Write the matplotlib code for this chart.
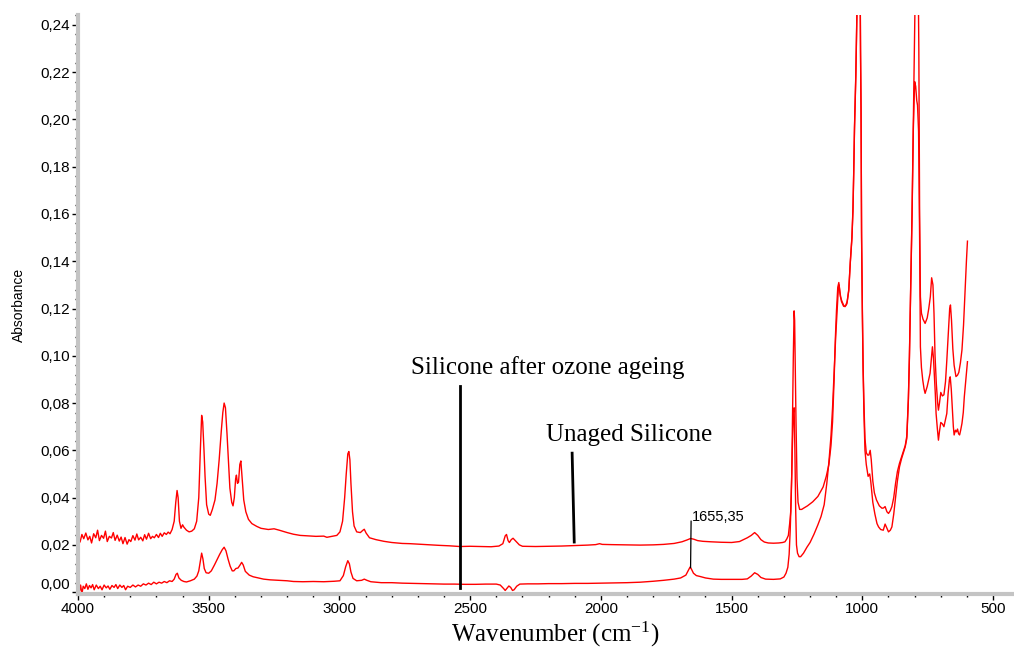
import matplotlib
matplotlib.use("Agg")
import matplotlib.pyplot as plt
from matplotlib.ticker import MultipleLocator, FuncFormatter

plt.rcParams["mathtext.fontset"] = "custom"
plt.rcParams["mathtext.rm"] = "Liberation Serif"
plt.rcParams["mathtext.it"] = "Liberation Serif:italic"

# ---------------- data ----------------
wn_unaged = [4000, 3992, 3985, 3978, 3970, 3962, 3955, 3948, 3940, 3932, 3925, 3918, 3910, 3902, 3895,
             3888, 3880, 3872, 3865, 3858, 3850, 3842, 3835, 3828, 3820, 3812, 3805, 3798, 3790, 3782,
             3775, 3768, 3760, 3752, 3745, 3738, 3730, 3722, 3715, 3708, 3700, 3692, 3685, 3678, 3670,
             3662, 3655, 3648, 3640, 3632, 3626, 3621, 3617, 3612, 3606, 3600, 3595, 3585, 3575, 3565,
             3555, 3546, 3538, 3532, 3527, 3523, 3518, 3514, 3508, 3500, 3494, 3486, 3476, 3468, 3460,
             3452, 3446, 3441, 3436, 3430, 3424, 3419, 3412, 3407, 3402, 3397, 3394, 3390, 3386, 3381,
             3377, 3372, 3366, 3358, 3348, 3335, 3316, 3300, 3272, 3250, 3230, 3200, 3176, 3150, 3120,
             3090, 3060, 3048, 3030, 3010, 2998, 2988, 2980, 2974, 2968, 2964, 2960, 2956, 2950, 2944,
             2934, 2920, 2910, 2905, 2898, 2885, 2860, 2830, 2800, 2760, 2730, 2700, 2660, 2620, 2580,
             2540, 2500, 2460, 2420, 2390, 2375, 2366, 2361, 2355, 2350, 2343, 2336, 2325, 2312, 2300,
             2250, 2200, 2150, 2100, 2050, 2020, 2005, 1995, 1960, 1900, 1850, 1800, 1760, 1720, 1690,
             1670, 1657, 1645, 1630, 1610, 1580, 1540, 1500, 1470, 1455, 1440, 1425, 1412, 1400, 1388,
             1375, 1360, 1340, 1320, 1305, 1296, 1289, 1283, 1278, 1274, 1270, 1267, 1264, 1261, 1259,
             1256, 1254, 1250, 1246, 1240, 1232, 1225, 1210, 1190, 1170, 1150, 1138, 1128, 1120, 1114,
             1108, 1103, 1099, 1094, 1090, 1086, 1080, 1072, 1066, 1059, 1052, 1046, 1040, 1036, 1033,
             1030, 1025, 1021, 1017, 1013, 1010, 1007, 1005, 1003, 1000, 997, 994, 990, 985, 980,
             975, 970, 966, 960, 954, 946, 935, 925, 919, 913, 906, 900, 893, 887, 880,
             873, 866, 858, 850, 843, 836, 830, 824, 820, 815, 810, 805, 800, 796, 792,
             788, 784, 781, 778, 774, 768, 760, 752, 746, 740, 735, 730, 726, 722, 717,
             712, 709, 705, 700, 694, 688, 682, 677, 671, 666, 663, 659, 654, 649, 642,
             636, 631, 625, 619, 613, 607, 602, 598]
abs_unaged = [0.0225, 0.0212, 0.0244, 0.0226, 0.0250, 0.0221, 0.0236, 0.0208, 0.0247, 0.0230, 0.0262, 0.0218, 0.0240, 0.0228, 0.0258,
              0.0214, 0.0236, 0.0229, 0.0252, 0.0219, 0.0241, 0.0216, 0.0233, 0.0205, 0.0231, 0.0203, 0.0222, 0.0214, 0.0239, 0.0220,
              0.0246, 0.0221, 0.0232, 0.0217, 0.0243, 0.0224, 0.0249, 0.0226, 0.0236, 0.0230, 0.0244, 0.0231, 0.0249, 0.0236, 0.0251,
              0.0244, 0.0254, 0.0247, 0.0265, 0.0300, 0.0380, 0.0430, 0.0400, 0.0300, 0.0270, 0.0285, 0.0275, 0.0262, 0.0255, 0.0258,
              0.0268, 0.0300, 0.0400, 0.0600, 0.0748, 0.0720, 0.0600, 0.0490, 0.0370, 0.0330, 0.0325, 0.0350, 0.0390, 0.0460, 0.0560,
              0.0680, 0.0760, 0.0800, 0.0780, 0.0670, 0.0540, 0.0440, 0.0380, 0.0365, 0.0400, 0.0480, 0.0495, 0.0460, 0.0465, 0.0540,
              0.0555, 0.0480, 0.0390, 0.0340, 0.0308, 0.0290, 0.0278, 0.0270, 0.0265, 0.0268, 0.0262, 0.0252, 0.0245, 0.0240, 0.0238,
              0.0236, 0.0237, 0.0232, 0.0236, 0.0240, 0.0255, 0.0300, 0.0400, 0.0500, 0.0585, 0.0595, 0.0560, 0.0460, 0.0340, 0.0280,
              0.0255, 0.0252, 0.0262, 0.0266, 0.0250, 0.0230, 0.0222, 0.0215, 0.0210, 0.0206, 0.0205, 0.0203, 0.0200, 0.0198, 0.0196,
              0.0193, 0.0194, 0.0193, 0.0192, 0.0195, 0.0205, 0.0238, 0.0244, 0.0218, 0.0210, 0.0222, 0.0228, 0.0215, 0.0200, 0.0194,
              0.0193, 0.0194, 0.0195, 0.0197, 0.0199, 0.0201, 0.0205, 0.0202, 0.0201, 0.0200, 0.0199, 0.0200, 0.0202, 0.0206, 0.0213,
              0.0221, 0.0227, 0.0224, 0.0218, 0.0215, 0.0213, 0.0211, 0.0210, 0.0214, 0.0222, 0.0230, 0.0240, 0.0252, 0.0240, 0.0222,
              0.0212, 0.0208, 0.0207, 0.0208, 0.0210, 0.0213, 0.0225, 0.0240, 0.0290, 0.0340, 0.0500, 0.0760, 0.1000, 0.1190, 0.1150,
              0.0900, 0.0740, 0.0480, 0.0380, 0.0350, 0.0350, 0.0355, 0.0365, 0.0382, 0.0405, 0.0445, 0.0490, 0.0540, 0.0620, 0.0720,
              0.0900, 0.1080, 0.1190, 0.1290, 0.1310, 0.1270, 0.1230, 0.1210, 0.1208, 0.1220, 0.1280, 0.1400, 0.1500, 0.1620, 0.1780,
              0.1970, 0.2190, 0.2440, 0.2700, 0.2950, 0.2900, 0.2300, 0.2050, 0.1520, 0.1200, 0.0950, 0.0800, 0.0650, 0.0590, 0.0580,
              0.0580, 0.0600, 0.0560, 0.0470, 0.0420, 0.0390, 0.0365, 0.0355, 0.0356, 0.0362, 0.0340, 0.0333, 0.0345, 0.0362, 0.0400,
              0.0460, 0.0510, 0.0545, 0.0572, 0.0595, 0.0620, 0.0660, 0.0820, 0.1000, 0.1300, 0.1600, 0.1980, 0.2370, 0.2700, 0.2900,
              0.2800, 0.2300, 0.1600, 0.1250, 0.1180, 0.1155, 0.1137, 0.1160, 0.1200, 0.1250, 0.1330, 0.1300, 0.1180, 0.1000, 0.0880,
              0.0800, 0.0770, 0.0800, 0.0845, 0.0830, 0.0835, 0.0890, 0.0980, 0.1100, 0.1200, 0.1215, 0.1150, 0.1030, 0.0960, 0.0912,
              0.0918, 0.0930, 0.0970, 0.1025, 0.1130, 0.1280, 0.1400, 0.1485]

wn_aged = [4000, 3994, 3990, 3985, 3980, 3974, 3968, 3962, 3956, 3950, 3944, 3938, 3930, 3922, 3915,
           3908, 3900, 3892, 3885, 3878, 3870, 3862, 3855, 3848, 3840, 3832, 3825, 3818, 3810, 3800,
           3790, 3780, 3770, 3760, 3750, 3740, 3730, 3720, 3710, 3700, 3690, 3680, 3670, 3660, 3650,
           3640, 3632, 3625, 3620, 3614, 3605, 3595, 3585, 3570, 3555, 3545, 3538, 3532, 3527, 3522,
           3517, 3510, 3500, 3490, 3478, 3468, 3458, 3448, 3441, 3434, 3426, 3418, 3410, 3404, 3396,
           3388, 3380, 3374, 3368, 3360, 3345, 3330, 3310, 3290, 3265, 3230, 3200, 3176, 3140, 3100,
           3060, 3020, 2998, 2985, 2976, 2968, 2962, 2956, 2948, 2934, 2915, 2905, 2895, 2880, 2840,
           2800, 2760, 2720, 2680, 2640, 2600, 2560, 2520, 2480, 2440, 2400, 2385, 2372, 2366, 2360,
           2352, 2345, 2338, 2332, 2322, 2310, 2280, 2240, 2200, 2150, 2100, 2050, 2000, 1950, 1900,
           1850, 1800, 1760, 1720, 1695, 1675, 1664, 1659, 1654, 1646, 1635, 1620, 1600, 1570, 1540,
           1500, 1460, 1440, 1425, 1412, 1400, 1388, 1370, 1340, 1314, 1300, 1292, 1285, 1280, 1276,
           1272, 1268, 1264, 1261, 1258, 1255, 1252, 1248, 1242, 1236, 1225, 1212, 1200, 1185, 1170,
           1158, 1146, 1136, 1128, 1120, 1114, 1108, 1102, 1097, 1092, 1089, 1084, 1078, 1070, 1064,
           1058, 1052, 1046, 1040, 1036, 1033, 1030, 1025, 1021, 1017, 1013, 1010, 1007, 1005, 1003,
           1000, 997, 994, 990, 985, 978, 972, 968, 960, 952, 944, 938, 930, 920, 913,
           906, 900, 893, 887, 880, 873, 866, 858, 850, 843, 836, 830, 824, 820, 815,
           810, 805, 800, 796, 792, 789, 785, 781, 778, 774, 769, 764, 760, 752, 746,
           741, 736, 732, 728, 725, 721, 718, 713, 709, 705, 700, 694, 688, 682, 677,
           672, 667, 664, 660, 656, 652, 649, 644, 640, 636, 632, 628, 624, 619, 614,
           610, 604, 598]
abs_aged = [0.0020, 0.0005, 0.0030, -0.0008, 0.0025, 0.0015, 0.0035, 0.0012, 0.0028, 0.0018, 0.0032, 0.0010, 0.0030, 0.0015, 0.0025,
            0.0010, 0.0030, 0.0018, 0.0026, 0.0012, 0.0028, 0.0020, 0.0032, 0.0015, 0.0030, 0.0020, 0.0028, 0.0010, 0.0025, 0.0020,
            0.0030, 0.0022, 0.0030, 0.0025, 0.0035, 0.0030, 0.0038, 0.0032, 0.0042, 0.0035, 0.0042, 0.0038, 0.0045, 0.0040, 0.0048,
            0.0045, 0.0055, 0.0075, 0.0080, 0.0060, 0.0050, 0.0045, 0.0043, 0.0048, 0.0055, 0.0068, 0.0090, 0.0130, 0.0165, 0.0140,
            0.0100, 0.0082, 0.0080, 0.0090, 0.0115, 0.0138, 0.0160, 0.0180, 0.0190, 0.0175, 0.0140, 0.0110, 0.0090, 0.0090, 0.0100,
            0.0102, 0.0115, 0.0126, 0.0115, 0.0088, 0.0072, 0.0065, 0.0060, 0.0055, 0.0052, 0.0050, 0.0048, 0.0045, 0.0044, 0.0045,
            0.0044, 0.0046, 0.0048, 0.0070, 0.0108, 0.0133, 0.0120, 0.0085, 0.0058, 0.0048, 0.0050, 0.0055, 0.0050, 0.0044, 0.0040,
            0.0040, 0.0038, 0.0037, 0.0036, 0.0035, 0.0034, 0.0034, 0.0033, 0.0033, 0.0034, 0.0034, 0.0030, 0.0015, 0.0007, 0.0015,
            0.0026, 0.0020, 0.0007, 0.0010, 0.0025, 0.0034, 0.0035, 0.0035, 0.0036, 0.0036, 0.0037, 0.0037, 0.0038, 0.0039, 0.0040,
            0.0042, 0.0046, 0.0050, 0.0055, 0.0060, 0.0072, 0.0095, 0.0106, 0.0098, 0.0080, 0.0070, 0.0066, 0.0060, 0.0055, 0.0054,
            0.0054, 0.0054, 0.0056, 0.0068, 0.0082, 0.0075, 0.0062, 0.0055, 0.0054, 0.0056, 0.0064, 0.0080, 0.0105, 0.0160, 0.0260,
            0.0400, 0.0600, 0.0760, 0.0780, 0.0600, 0.0350, 0.0200, 0.0165, 0.0150, 0.0150, 0.0165, 0.0190, 0.0210, 0.0245, 0.0285,
            0.0320, 0.0370, 0.0460, 0.0550, 0.0660, 0.0780, 0.0930, 0.1080, 0.1180, 0.1280, 0.1300, 0.1250, 0.1230, 0.1210, 0.1212,
            0.1230, 0.1275, 0.1395, 0.1495, 0.1610, 0.1770, 0.1960, 0.2180, 0.2430, 0.2680, 0.2920, 0.2880, 0.2280, 0.2030, 0.1500,
            0.1180, 0.0930, 0.0760, 0.0600, 0.0540, 0.0490, 0.0500, 0.0470, 0.0380, 0.0330, 0.0290, 0.0276, 0.0265, 0.0262, 0.0288,
            0.0270, 0.0255, 0.0262, 0.0276, 0.0330, 0.0400, 0.0470, 0.0530, 0.0565, 0.0590, 0.0615, 0.0650, 0.0810, 0.0990, 0.1290,
            0.1590, 0.1960, 0.2160, 0.2140, 0.2080, 0.2060, 0.1950, 0.1500, 0.1038, 0.0950, 0.0897, 0.0860, 0.0841, 0.0870, 0.0900,
            0.0926, 0.0990, 0.1038, 0.0990, 0.0926, 0.0840, 0.0756, 0.0690, 0.0643, 0.0680, 0.0718, 0.0712, 0.0700, 0.0730, 0.0756,
            0.0840, 0.0900, 0.0911, 0.0860, 0.0784, 0.0700, 0.0665, 0.0685, 0.0678, 0.0690, 0.0670, 0.0665, 0.0685, 0.0714, 0.0760,
            0.0827, 0.0900, 0.0975]

x_major_ticks = [4000, 3500, 3000, 2500, 2000, 1500, 1000, 500]
y_major_ticks = [0.00, 0.02, 0.04, 0.06, 0.08, 0.10, 0.12, 0.14, 0.16, 0.18, 0.20, 0.22, 0.24]

# ---------------- figure ----------------
SANS = ["Liberation Sans", "DejaVu Sans"]
SERIF = ["Liberation Serif", "DejaVu Serif"]

fig = plt.figure(figsize=(10.14, 6.48), dpi=100)
ax = fig.add_axes([0.0769, 0.0833, 0.9231, 0.8936])

ax.plot(wn_unaged, abs_unaged, color="#ff0000", lw=1.0)
ax.plot(wn_aged, abs_aged, color="#ff0000", lw=1.0)

ax.set_xlim(4000, 420)
ax.set_ylim(-0.0008, 0.2442)

for s in ["top", "right"]:
    ax.spines[s].set_visible(False)
for s in ["left", "bottom"]:
    ax.spines[s].set_color("#c4c4c4")
    ax.spines[s].set_linewidth(3)

ax.set_xticks(x_major_ticks)
ax.set_yticks(y_major_ticks)
ax.xaxis.set_minor_locator(MultipleLocator(100))
ax.yaxis.set_minor_locator(MultipleLocator(0.004))
ax.yaxis.set_major_formatter(FuncFormatter(lambda v, p: f"{v:.2f}".replace(".", ",")))
ax.tick_params(which="major", direction="out", length=4, width=1, color="black",
               labelsize=11, pad=2)
ax.tick_params(which="minor", direction="out", length=2.5, width=1, color="black")
for lab in ax.get_xticklabels() + ax.get_yticklabels():
    lab.set_family(SANS)
ax.get_yticklabels()[0].set_va("bottom")

ax.set_ylabel("Absorbance", family=SANS, fontsize=10, labelpad=10)
fig.text(555 / 1014, 1 - 634 / 648, "Wavenumber (cm$^{-1}$)", family=SERIF, fontsize=18,
         ha="center", va="center")

# annotations
ax.plot([2539, 2539], [0.0872, 0.0017], color="black", lw=2)
ax.text(2202, 0.0952, "Silicone after ozone ageing", family=SERIF, fontsize=18,
        ha="center", va="center")
ax.plot([2110, 2102], [0.0588, 0.0212], color="black", lw=2)
ax.text(1892, 0.0665, "Unaged Silicone", family=SERIF, fontsize=18,
        ha="center", va="center")
ax.plot([1655, 1657], [0.0300, 0.0104], color="black", lw=0.9)
ax.text(1651, 0.0318, "1655,35", family=SANS, fontsize=10.5, ha="left", va="center")

fig.savefig("out.png", dpi=100)
